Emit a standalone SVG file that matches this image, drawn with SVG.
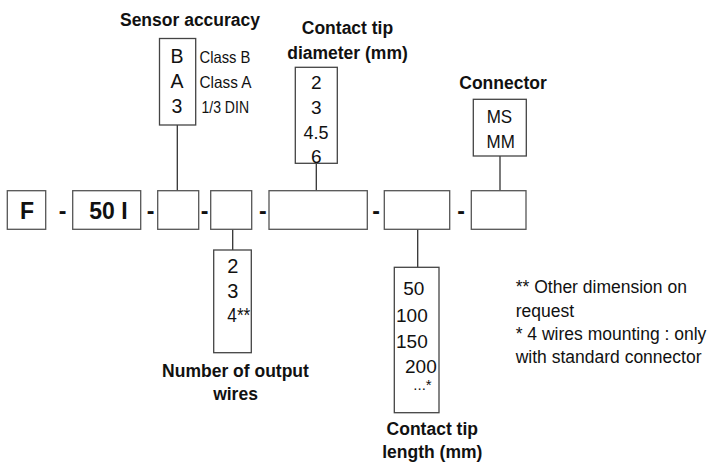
<svg xmlns="http://www.w3.org/2000/svg" width="710" height="465" viewBox="0 0 710 465">
<style>
.box{fill:#fff;stroke:#444;stroke-width:1.3}
.row{fill:#fff;stroke:#555;stroke-width:1.3}
.ln{stroke:#333;stroke-width:1.3;fill:none}
text{font-family:"Liberation Sans",Arial,sans-serif;fill:#111}
.t{font-size:17.5px;font-weight:bold;text-anchor:middle}
.big{font-size:23px;font-weight:bold;text-anchor:middle}
.o{font-size:19px}
.c{text-anchor:middle}
.n{font-size:17.5px}
.cl{font-size:16.5px}
</style>
<rect width="710" height="465" fill="#fff"/>
<g id="connectors">
<line class="ln" x1="177.3" y1="125" x2="177.3" y2="190.7"/>
<line class="ln" x1="316.3" y1="163.3" x2="316.3" y2="190.7"/>
<line class="ln" x1="500" y1="156" x2="500" y2="190.7"/>
<line class="ln" x1="232.7" y1="229.3" x2="232.7" y2="250"/>
<line class="ln" x1="417.7" y1="229.3" x2="417.7" y2="267.3"/>
</g>
<g id="row">
<g id="f"><rect class="row" x="7.3" y="190.7" width="38.4" height="38.6"/><text class="big" x="27" y="218.5">F</text></g>
<text class="big" x="62.5" y="218.5">-</text>
<g id="code50"><rect class="row" x="72.7" y="190.7" width="68" height="38.6"/><text class="big" x="108.5" y="218.5">50 I</text></g>
<text class="big" x="150.5" y="218.5">-</text>
<g id="slot-accuracy"><rect class="row" x="157.7" y="190.7" width="41" height="38.6"/></g>
<text class="big" x="204.5" y="218.5">-</text>
<g id="slot-wires"><rect class="row" x="210.7" y="190.7" width="41" height="38.6"/></g>
<text class="big" x="262.8" y="218.5">-</text>
<g id="slot-diameter"><rect class="row" x="269" y="190.7" width="98.3" height="38.6"/></g>
<text class="big" x="376" y="218.5">-</text>
<g id="slot-length"><rect class="row" x="384.3" y="190.7" width="65.4" height="38.6"/></g>
<text class="big" x="461" y="218.5">-</text>
<g id="slot-connector"><rect class="row" x="471.3" y="190.7" width="54.7" height="38.6"/></g>
</g>
<g id="sensor-accuracy">
<text class="t" x="190" y="26">Sensor accuracy</text>
<rect class="box" x="159.5" y="38.5" width="36.2" height="86.5"/>
<text class="c" x="177" y="62.5" font-size="19.5">B</text>
<text class="c" x="177" y="87.5" font-size="19.5">A</text>
<text class="c" x="177" y="112.5" font-size="19.5">3</text>
<text class="cl" x="199.5" y="62.5" textLength="51" lengthAdjust="spacingAndGlyphs">Class B</text>
<text class="cl" x="199.5" y="87.5" textLength="52" lengthAdjust="spacingAndGlyphs">Class A</text>
<text class="cl" x="201.5" y="112.5" textLength="47.5" lengthAdjust="spacingAndGlyphs">1/3 DIN</text>
</g>
<g id="contact-tip-diameter">
<text class="t" x="347.5" y="34">Contact tip</text>
<text class="t" x="347.5" y="59">diameter (mm)</text>
<rect class="box" x="295.3" y="67.3" width="42" height="96"/>
<text class="o c" x="316.3" y="89.3">2</text>
<text class="o c" x="316.3" y="114.3">3</text>
<text class="o" x="303.5" y="138.7" textLength="25" lengthAdjust="spacingAndGlyphs">4.5</text>
<text class="o c" x="316.3" y="163">6</text>
</g>
<g id="connector">
<text class="t" x="503" y="89">Connector</text>
<rect class="box" x="473.3" y="99.3" width="53" height="56.7"/>
<text x="486.7" y="123.3" font-size="18.5" textLength="25.5" lengthAdjust="spacingAndGlyphs">MS</text>
<text x="486.5" y="147.7" font-size="18.5" textLength="28.3" lengthAdjust="spacingAndGlyphs">MM</text>
</g>
<g id="output-wires">
<rect class="box" x="213.7" y="250" width="37.6" height="102.7"/>
<text x="227.3" y="272.7" font-size="20">2</text>
<text x="227.3" y="297.7" font-size="20">3</text>
<text x="227.3" y="321.7" font-size="20" textLength="23" lengthAdjust="spacingAndGlyphs">4**</text>
<text class="t" x="235.5" y="376.7">Number of output</text>
<text class="t" x="235.5" y="400">wires</text>
</g>
<g id="contact-tip-length">
<rect class="box" x="394.3" y="267.3" width="44.7" height="145.4"/>
<text class="o" x="403.3" y="295">50</text>
<text class="o" x="396" y="321.7">100</text>
<text class="o" x="396" y="347.7">150</text>
<text class="o" x="405" y="372.7">200</text>
<text x="413.3" y="390" font-size="15">...*</text>
<text class="t" x="432.3" y="435">Contact tip</text>
<text class="t" x="432.3" y="458.3">length (mm)</text>
</g>
<g id="notes">
<text class="n" x="515.7" y="293.3">** Other dimension on</text>
<text class="n" x="515.7" y="317.3">request</text>
<text class="n" x="515.7" y="340">* 4 wires mounting : only</text>
<text class="n" x="515.7" y="363.3">with standard connector</text>
</g>
</svg>
